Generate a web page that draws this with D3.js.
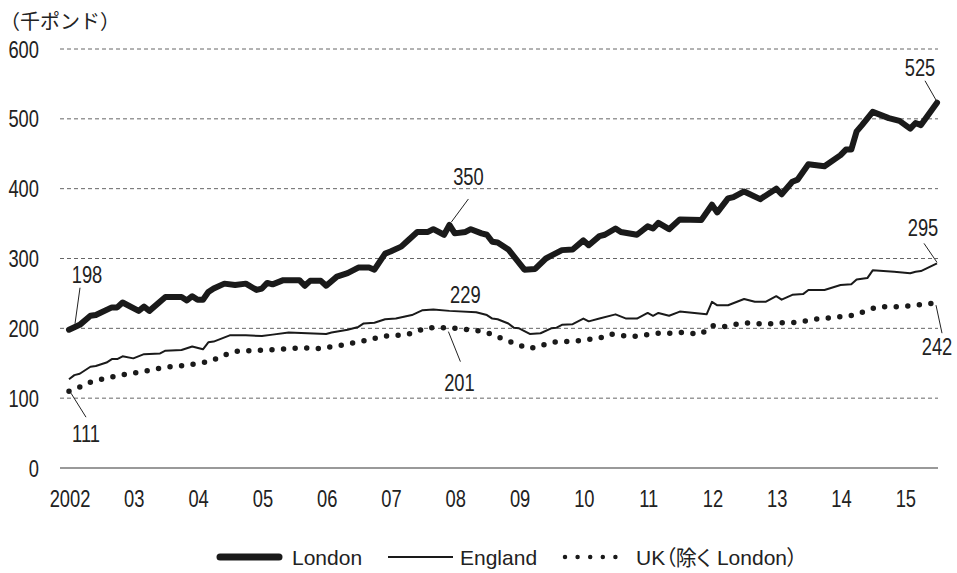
<!DOCTYPE html>
<html>
<head>
<meta charset="utf-8">
<script src="https://cdn.jsdelivr.net/npm/d3@7"></script>
<style>
  body { margin: 0; background: #fff; }
  svg { display: block; }
  text { font-family: 'Liberation Sans', Arial, 'Noto Sans CJK JP', sans-serif; fill: #222; }
  .jp { font-family: 'Noto Sans CJK JP', sans-serif; }
  .legend text { font-feature-settings: 'palt'; }
</style>
</head>
<body>
<script>
(function () {
  const width = 957
  const height = 573

  // months since Jan 2002, thousand pounds
  const londonData = [
    [0, 198], [2, 205], [4, 218], [5, 219], [8, 230], [9, 230], [10, 237], [13, 225],
    [14, 231], [15, 225], [18, 245], [21, 245], [22, 240], [23, 246], [24, 241], [25, 241],
    [26, 252], [27, 257], [29, 264], [31, 262], [33, 264], [35, 255], [36, 257], [37, 265],
    [38, 263], [40, 269], [43, 269], [44, 261], [45, 268], [47, 268], [48, 261], [50, 274],
    [52, 279], [54, 287], [56, 287], [57, 284], [59, 307], [60, 310], [62, 317], [63, 324],
    [65, 338], [67, 338], [68, 342], [70, 334], [71, 348], [72, 336], [74, 338], [75, 342],
    [77, 336], [78, 334], [79, 324], [80, 323], [82, 313], [85, 284], [87, 285], [89, 300],
    [90, 304], [92, 312], [94, 313], [96, 326], [97, 319], [99, 332], [100, 334], [102, 343],
    [103, 338], [106, 334], [108, 346], [109, 343], [110, 351], [112, 342], [114, 356], [118, 355],
    [120, 377], [121, 366], [123, 386], [124, 388], [126, 396], [129, 385], [132, 400], [133, 392],
    [135, 410], [136, 413], [138, 435], [141, 432], [144, 448], [145, 456], [146, 456], [147, 482],
    [148, 491], [150, 510], [153, 501], [155, 497], [157, 486], [158, 494], [159, 491], [162, 523]
  ]
  const englandData = [
    [0, 127], [1, 133], [2, 135], [4, 145], [5, 146], [7, 151], [8, 156], [9, 156],
    [10, 160], [12, 157], [14, 163], [17, 164], [18, 168], [21, 169], [23, 174], [25, 170],
    [26, 180], [27, 181], [30, 190], [33, 190], [36, 189], [38, 191], [41, 194], [48, 192],
    [49, 194], [52, 198], [54, 202], [55, 207], [57, 208], [59, 213], [61, 214], [64, 219],
    [66, 226], [68, 227], [71, 225], [76, 223], [78, 219], [79, 214], [80, 213], [82, 207],
    [83, 201], [84, 200], [86, 192], [88, 193], [90, 200], [91, 201], [92, 205], [94, 206],
    [96, 214], [97, 210], [99, 214], [102, 220], [104, 214], [106, 214], [108, 222], [109, 218],
    [110, 222], [112, 218], [114, 224], [119, 220], [120, 238], [121, 233], [123, 233], [126, 242],
    [128, 238], [130, 238], [132, 246], [133, 241], [135, 248], [137, 249], [138, 255], [141, 255],
    [144, 262], [146, 263], [147, 270], [149, 272], [150, 283], [154, 281], [157, 279], [158, 281],
    [159, 282], [162, 293]
  ]
  const ukData = [
    [0, 110], [2, 116], [4, 123], [6, 127], [9, 132], [11, 135], [13, 137], [15, 140],
    [17, 143], [19, 145], [22, 147], [24, 150], [26, 152], [28, 158], [30, 165], [32, 168],
    [34, 168], [37, 169], [39, 170], [41, 171], [43, 172], [45, 172], [47, 171], [50, 175],
    [52, 177], [54, 181], [56, 183], [58, 188], [61, 190], [63, 191], [65, 196], [67, 201],
    [69, 201], [71, 201], [73, 199], [76, 197], [78, 194], [80, 188], [82, 182], [84, 176],
    [86, 171], [88, 175], [90, 180], [92, 181], [95, 182], [97, 184], [99, 186], [101, 192],
    [103, 190], [105, 188], [107, 190], [110, 193], [112, 193], [114, 194], [116, 193], [118, 192],
    [120, 204], [122, 202], [124, 205], [126, 208], [128, 207], [130, 206], [133, 208], [135, 208],
    [137, 210], [139, 213], [141, 214], [143, 216], [145, 217], [147, 220], [149, 226], [151, 231],
    [153, 231], [155, 231], [158, 233], [160, 235], [162, 236]
  ]
  const yearLabels = ['2002', '03', '04', '05', '06', '07', '08', '09', '10', '11', '12', '13', '14', '15']
  const yTicks = [0, 100, 200, 300, 400, 500, 600]
  // callouts: series, index of point, text, label offset, leader start/end offset
  const callouts = [
    { data: londonData, i: 0, text: '198', lx: 18, ly: -47, leader: [6, -6, 11, -42] },
    { data: ukData, i: 0, text: '111', lx: 17, ly: 51, leader: [2, 2, 17, 26] },
    { data: londonData, i: 44, text: '350', lx: 19, ly: -40, leader: [2, -3, 19, -26] },
    { data: englandData, i: 33, text: '229', lx: 32, ly: -6, leader: null },
    { data: ukData, i: 33, text: '201', lx: 10, ly: 63, leader: [-1, 4, 11, 34] },
    { data: londonData, i: londonData.length - 1, text: '525', lx: -17, ly: -27, leader: [-12, -22, 0, -1] },
    { data: englandData, i: englandData.length - 1, text: '295', lx: -14, ly: -27, leader: [-13, -20, 0, -1] },
    { data: ukData, i: ukData.length - 1, text: '242', lx: 0, ly: 52, leader: [-1, 2, 5, 30] }
  ]

  const svg = d3.select('body')
    .append('svg')
    .attr('width', width)
    .attr('height', height)

  const xScale = d3.scaleLinear()
    .domain([0, 162])
    .range([69, 937])
  const yScale = d3.scaleLinear()
    .domain([0, 600])
    .range([468, 49])

  // narrow numerals like the print original
  const numText = function (parent, x, y, anchor, str) {
    return parent.append('text')
      .attr('transform', `translate(${x}, ${y}) scale(0.78, 1)`)
      .attr('text-anchor', anchor)
      .attr('font-size', '23.5px')
      .text(str)
  }

  // unit
  svg.append('text')
    .attr('class', 'jp')
    .attr('x', 0)
    .attr('y', 29)
    .attr('font-size', '20px')
    .text('（千ポンド）')

  // grid
  svg.selectAll('line.grid')
    .data(yTicks)
    .enter()
    .append('line')
    .attr('class', 'grid')
    .attr('x1', 60)
    .attr('x2', 938)
    .attr('y1', function (d) { return yScale(d) })
    .attr('y2', function (d) { return yScale(d) })
    .attr('stroke', function (d) { return d === 0 ? '#777' : '#666' })
    .attr('stroke-width', function (d) { return d === 0 ? 1.5 : 1 })
    .attr('stroke-dasharray', function (d) { return d === 0 ? null : '4 3' })

  yTicks.forEach(function (d) {
    numText(svg, 39, yScale(d) + 8.5, 'end', d)
  })
  yearLabels.forEach(function (d, i) {
    numText(svg, xScale(i * 12) + 1, 507, 'middle', d)
  })

  const line = d3.line()
    .x(function (d) { return xScale(d[0]) })
    .y(function (d) { return yScale(d[1]) })

  svg.append('path')
    .datum(englandData)
    .attr('d', line)
    .attr('fill', 'none')
    .attr('stroke', '#1a1a1a')
    .attr('stroke-width', 2)
    .attr('stroke-linejoin', 'round')

  svg.append('path')
    .datum(ukData)
    .attr('d', line)
    .attr('fill', 'none')
    .attr('stroke', '#1a1a1a')
    .attr('stroke-width', 5.5)
    .attr('stroke-linecap', 'round')
    .attr('stroke-dasharray', '0 11.6')

  svg.append('path')
    .datum(londonData)
    .attr('d', line)
    .attr('fill', 'none')
    .attr('stroke', '#1a1a1a')
    .attr('stroke-width', 6)
    .attr('stroke-linejoin', 'round')
    .attr('stroke-linecap', 'round')

  // callouts
  callouts.forEach(function (c) {
    const px = xScale(c.data[c.i][0])
    const py = yScale(c.data[c.i][1])
    if (c.leader) {
      svg.append('line')
        .attr('x1', px + c.leader[0])
        .attr('y1', py + c.leader[1])
        .attr('x2', px + c.leader[2])
        .attr('y2', py + c.leader[3])
        .attr('stroke', '#222')
        .attr('stroke-width', 1)
    }
    numText(svg, px + c.lx, py + c.ly, 'middle', c.text)
  })

  // legend
  const legend = svg.append('g').attr('class', 'legend')
  legend.append('line')
    .attr('x1', 220).attr('x2', 279)
    .attr('y1', 557).attr('y2', 557)
    .attr('stroke', '#1a1a1a')
    .attr('stroke-width', 7)
    .attr('stroke-linecap', 'round')
  legend.append('text')
    .attr('x', 292).attr('y', 565)
    .attr('font-size', '21px')
    .text('London')
  legend.append('line')
    .attr('x1', 388).attr('x2', 453)
    .attr('y1', 557).attr('y2', 557)
    .attr('stroke', '#1a1a1a')
    .attr('stroke-width', 2)
  legend.append('text')
    .attr('x', 460).attr('y', 565)
    .attr('font-size', '21px')
    .text('England')
  legend.append('line')
    .attr('x1', 565).attr('x2', 628)
    .attr('y1', 557).attr('y2', 557)
    .attr('stroke', '#1a1a1a')
    .attr('stroke-width', 4.5)
    .attr('stroke-linecap', 'round')
    .attr('stroke-dasharray', '0 12.6')
  legend.append('text')
    .attr('x', 636).attr('y', 565)
    .attr('font-size', '21px')
    .text('UK（除く London）')
})()
</script>
</body>
</html>
